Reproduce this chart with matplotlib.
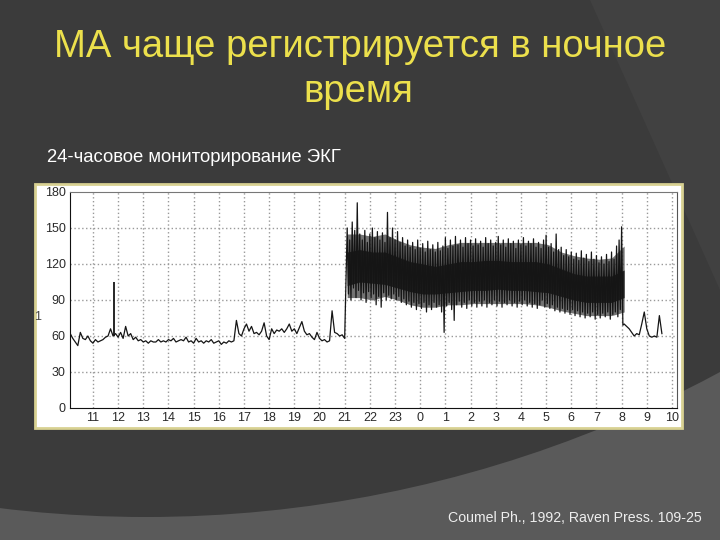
import numpy as np
import matplotlib
matplotlib.use("Agg")
import matplotlib.pyplot as plt
from matplotlib.patches import Rectangle, Circle, Polygon

# --- data ---
title1 = "МА чаще регистрируется в ночное"
title2 = "время"
subtitle = "24-часовое мониторирование ЭКГ"
source = "Coumel Ph., 1992, Raven Press. 109-25"

hour_ticks = list(range(11, 35))
hour_labels = [str(h % 24) for h in hour_ticks]
bpm_ticks = [0, 30, 60, 90, 120, 150, 180]

# day, sinus rhythm, every 0.1 h from 10.1 to 21.0
day_start = 10.1
day_hr = [62, 58, 55, 52, 63, 58, 57, 60, 56, 54,
          57, 55, 56, 57, 59, 60, 66, 60, 62, 59,
          63, 58, 68, 60, 62, 57, 59, 56, 57, 55,
          56, 54, 56, 55, 55, 57, 55, 56, 55, 57,
          56, 58, 55, 56, 57, 56, 59, 55, 56, 54,
          58, 55, 56, 54, 56, 55, 57, 54, 55, 56,
          53, 55, 54, 56, 55, 56, 73, 62, 60, 66,
          70, 64, 68, 62, 63, 61, 64, 71, 60, 57,
          66, 62, 65, 64, 66, 63, 66, 70, 64, 66,
          62, 67, 72, 64, 61, 62, 59, 57, 63, 58,
          56, 57, 55, 56, 81, 63, 62, 60, 61, 58]
spike_t = [11.84]
spike_lo = [60]
spike_hi = [105]

# night, AF: peaks every 0.1 h from 21.1, troughs 0.05 h later
af_start = 21.1
af_hi = [150, 140, 155, 148, 171, 145, 140, 148, 138, 145,
         150, 142, 147, 140, 146, 138, 163, 142, 150, 140,
         147, 138, 142, 135, 140, 134, 138, 132, 140, 133,
         137, 130, 139, 132, 136, 130, 138, 131, 135, 142,
         133, 140, 135, 143, 136, 140, 134, 142, 137, 140,
         135, 141, 136, 139, 134, 142, 137, 140, 135, 138,
         143, 136, 140, 134, 141, 137, 139, 133, 140, 136,
         142, 135, 139, 137, 141, 134, 138, 133, 140, 144,
         134, 137, 130, 145, 132, 134, 127, 132, 126, 130,
         124, 129, 123, 131, 125, 128, 122, 130, 124, 127,
         121, 126, 120, 128, 122, 130, 124, 135, 140, 151]
af_lo = [95, 90, 100, 92, 98, 90, 96, 88, 97, 92,
         95, 86, 93, 84, 96, 90, 94, 91, 95, 90,
         93, 88, 91, 86, 89, 84, 88, 82, 87, 83,
         88, 80, 86, 82, 88, 84, 86, 80, 63, 85,
         88, 82, 73, 86, 89, 84, 88, 83, 90, 85,
         88, 84, 89, 85, 90, 84, 88, 86, 90, 85,
         89, 84, 88, 86, 90, 85, 88, 84, 89, 86,
         90, 85, 88, 84, 87, 83, 86, 90, 84, 87,
         83, 86, 81, 84, 80, 83, 79, 82, 78, 82,
         77, 81, 76, 80, 75, 79, 76, 80, 74, 78,
         75, 79, 76, 80, 74, 78, 80, 76, 82, 69]
# AF band envelope and its dense core, every 0.5 h from 21.1
band_start = 21.1
env_hi = [145, 145, 143, 145, 140, 136, 134, 133, 136, 138, 138, 138,
          138, 138, 138, 138, 136, 130, 127, 125, 124, 125, 135]
env_lo = [92, 92, 90, 93, 90, 86, 84, 84, 86, 86, 87, 87,
          87, 87, 87, 86, 84, 81, 79, 77, 77, 77, 80]
core_hi = [130, 132, 130, 130, 126, 122, 120, 118, 120, 122, 122, 123,
           123, 122, 122, 122, 120, 116, 112, 110, 110, 110, 115]
core_lo = [102, 105, 104, 103, 100, 97, 95, 95, 96, 97, 98, 98,
           99, 98, 98, 97, 96, 93, 90, 88, 88, 88, 92]

# morning, sinus rhythm again, every 0.1 h from 32.1
morn_start = 32.1
morn_hr = [70, 68, 66, 63, 60, 62, 61, 70, 80, 66, 60, 59, 60, 59, 77, 62]

# --- figure ---
fig = plt.figure(figsize=(7.2, 5.4), dpi=100)
bg = fig.add_axes([0, 0, 1, 1], zorder=0)
bg.set_xlim(0, 720)
bg.set_ylim(540, 0)
bg.axis("off")
bg.add_patch(Rectangle((0, 0), 720, 540, fc="#5a5a5a", ec="none"))
bg.add_patch(Circle((146, -692), 1209, fc="#3b3b3b", ec="none"))
bg.add_patch(Polygon([(590, 0), (720, 0), (720, 290)], fc="#414141", ec="none"))
bg.add_patch(Rectangle((35, 184), 647, 244, fc="white", ec="#d8d192", lw=2))

sans = ["Liberation Sans", "DejaVu Sans"]
bg.text(360, 57, title1, ha="center", va="baseline", fontsize=27.5,
        color="#ece04c", family=sans)
bg.text(358, 102, title2, ha="center", va="baseline", fontsize=27.5,
        color="#ece04c", family=sans)
bg.text(47, 162, subtitle, ha="left", va="baseline", fontsize=13.3,
        color="white", family=sans)
bg.text(702, 522, source, ha="right", va="baseline", fontsize=10.2,
        color="#eeeeee", family=sans)
bg.text(38, 320, "1", ha="center", va="baseline", fontsize=9,
        color="#444444", family=sans)

ax = fig.add_axes([70 / 720, 1 - 408 / 540, 607 / 720, 216 / 540], zorder=2)
ax.set_facecolor("white")
ax.set_xlim(10.09, 34.2)
ax.set_ylim(0, 180)

for h in hour_ticks:
    ax.axvline(h, color="#999999", lw=1, ls=(0, (1, 1.8)), zorder=1)
for b in bpm_ticks[1:-1]:
    ax.axhline(b, color="#999999", lw=1, ls=(0, (1, 1.8)), zorder=1)

day_t = day_start + 0.1 * np.arange(len(day_hr))
af_t = af_start + 0.1 * np.arange(len(af_hi))
band_t = band_start + 0.5 * np.arange(len(core_hi))
morn_t = morn_start + 0.1 * np.arange(len(morn_hr))

zig_t = np.column_stack([af_t, af_t + 0.05]).ravel()
zig_v = np.column_stack([af_hi, af_lo]).ravel()

t_all = np.concatenate([day_t, zig_t, morn_t])
v_all = np.concatenate([day_hr, zig_v, morn_hr])

ax.fill_between(band_t, env_lo, env_hi, color="#444444", alpha=0.75, lw=0, zorder=2)
ax.fill_between(band_t, core_lo, core_hi, color="#111111", alpha=0.85, lw=0, zorder=2)
ax.plot(t_all, v_all, color="#151515", lw=0.9, zorder=3)
ax.vlines(spike_t, spike_lo, spike_hi, color="#151515", lw=1.3, zorder=3)

ax.set_xticks(hour_ticks)
ax.set_xticklabels(hour_labels)
ax.set_yticks(bpm_ticks)
ax.set_yticklabels([str(b) for b in bpm_ticks])
ax.tick_params(length=0, labelsize=9, labelcolor="#2a2a2a", pad=3)
for lab in ax.get_xticklabels() + ax.get_yticklabels():
    lab.set_family(sans)

ax.spines["left"].set_color("#111111")
ax.spines["bottom"].set_color("#111111")
ax.spines["top"].set_color("#777777")
ax.spines["top"].set_linewidth(0.8)
ax.spines["right"].set_color("#555555")

fig.savefig("out.png", dpi=100)
